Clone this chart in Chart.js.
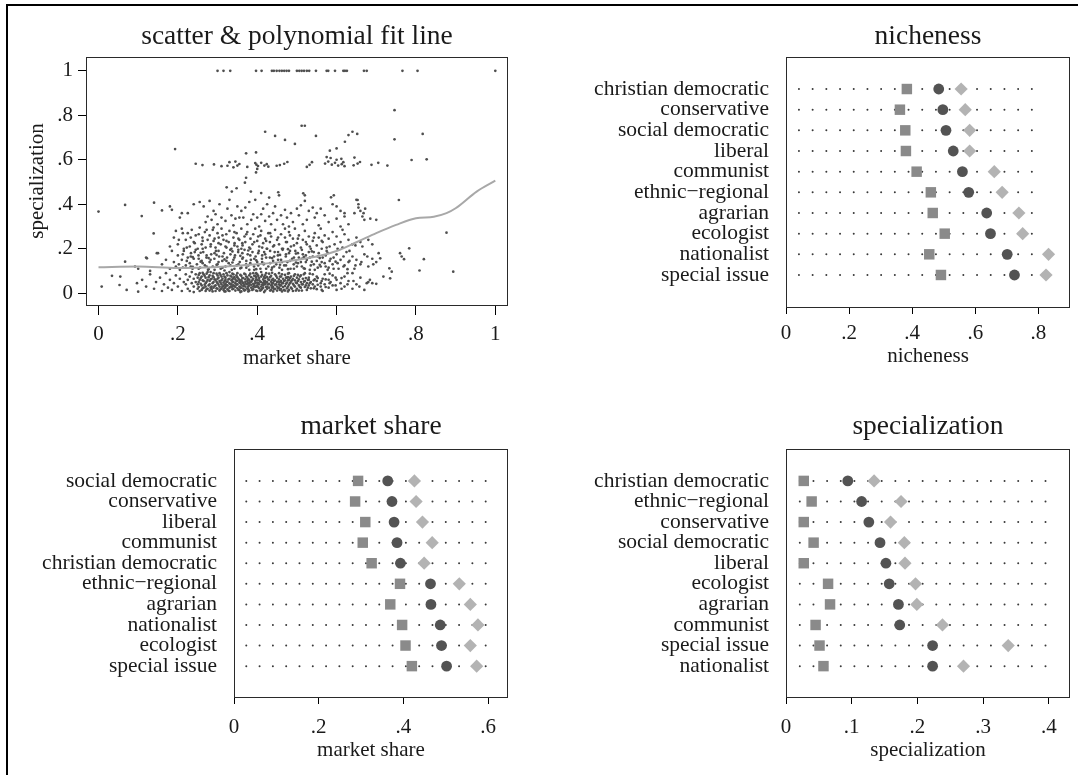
<!DOCTYPE html>
<html>
<head>
<meta charset="utf-8">
<script src="https://cdn.jsdelivr.net/npm/chart.js@4.4.1/dist/chart.umd.min.js"></script>
<style>
  html, body { margin: 0; padding: 0; background: #fff; overflow: hidden; }
  body { width: 1078px; height: 775px; position: relative; }
  .frame { position: absolute; left: 6px; top: 4px; width: 1200px; height: 900px;
           border-top: 2px solid #000; border-left: 2px solid #000; }
  canvas { position: absolute; }
</style>
</head>
<body>
<div class="frame"></div>
<canvas id="scatter" width="530" height="370" style="left:10px;top:10px"></canvas>
<canvas id="niche" width="528" height="370" style="left:550px;top:10px"></canvas>
<canvas id="share" width="530" height="375" style="left:10px;top:400px"></canvas>
<canvas id="spec" width="528" height="375" style="left:550px;top:400px"></canvas>
<script>
// ---- scatter & fit line ----
const scatterTicks = [0, 0.2, 0.4, 0.6, 0.8, 1];
const scatterTickLabels = ['0', '.2', '.4', '.6', '.8', '1'];

const fitX = [0, 0.1, 0.2, 0.3, 0.4, 0.466, 0.55, 0.6, 0.65, 0.7, 0.75, 0.8, 0.845, 0.877, 0.9, 0.953, 1];
const fitY = [0.117, 0.12, 0.113, 0.118, 0.13, 0.142, 0.165, 0.19, 0.229, 0.27, 0.307, 0.337, 0.344, 0.36, 0.382, 0.457, 0.506];

// sparse points, [market share, specialization]
const scatterPoints = [
  [0.300,1],[0.315,1],[0.332,1],[0.397,1],[0.411,1],[0.437,1],[0.442,1],[0.449,1],[0.456,1],[0.462,1],
  [0.468,1],[0.474,1],[0.480,1],[0.500,1],[0.506,1],[0.512,1],[0.518,1],[0.525,1],[0.531,1],[0.548,1],
  [0.575,1],[0.579,1],[0.596,1],[0.617,1],[0.621,1],[0.626,1],[0.669,1],[0.676,1],[0.766,1],[0.804,1],[1,1],
  [0.746,0.823],[0.746,0.692],[0.817,0.716],[0.827,0.602],[0.789,0.599],[0.512,0.753],[0.520,0.753],
  [0.420,0.726],[0.445,0.707],[0.470,0.689],[0.495,0.671],[0.548,0.707],[0.630,0.711],[0.640,0.726],
  [0.652,0.716],[0.621,0.681],[0.600,0.651],[0.583,0.641],[0.193,0.648],[0.372,0.629],[0.397,0.633],
  [0.575,0.612],[0.585,0.608],[0.600,0.600],[0.612,0.604],[0.645,0.610],[0.395,0.585],
  [0.245,0.582],[0.262,0.576],[0.291,0.579],[0.310,0.571],[0.325,0.573],[0.330,0.589],[0.345,0.592],
  [0.350,0.574],[0.375,0.568],[0.398,0.578],[0.402,0.572],[0.410,0.586],[0.418,0.574],[0.424,0.58],
  [0.428,0.569],[0.449,0.573],[0.457,0.576],[0.468,0.582],[0.476,0.59],[0.532,0.577],[0.538,0.589],
  [0.571,0.583],[0.579,0.592],[0.588,0.578],[0.596,0.586],[0.604,0.574],[0.613,0.58],[0.617,0.589],
  [0.643,0.575],[0.653,0.583],[0.659,0.59],[0.688,0.577],[0.705,0.586],[0.728,0.574],[0.340,0.566],
  [0.355,0.581],[0.400,0.559],[0.525,0.568],[0.620,0.571],
  [0.397,0.543],[0.369,0.497],[0.372,0.519],[0.348,0.472],[0.323,0.476],[0.336,0.457],[0.384,0.457],
  [0.453,0.454],[0.516,0.449],[0.586,0.431],[0.757,0.419],[0.520,0.44],[0.43,0.43],[0.41,0.45],
  [0.653,0.419],[0.655,0.40],[0.66,0.37],[0.672,0.38],[0.668,0.36],[0.593,0.44],[0.6,0.39],[0.61,0.30],
  [0.615,0.285],[0.62,0.36],
  [0.160,0.372],[0.180,0.39],[0.185,0.375],[0.205,0.34],[0.21,0.36],[0.225,0.36],[0.24,0.40],[0.255,0.41],
  [0.265,0.39],[0.27,0.32],[0.275,0.345],[0.28,0.415],[0.285,0.33],[0.29,0.37],[0.295,0.355],[0.30,0.31],
  [0.305,0.40],[0.31,0.34],[0.32,0.325],[0.325,0.38],[0.33,0.42],[0.335,0.35],[0.34,0.305],[0.345,0.335],
  [0.35,0.39],[0.355,0.34],[0.36,0.37],[0.365,0.34],[0.37,0.385],[0.375,0.31],[0.38,0.41],[0.385,0.33],
  [0.39,0.355],[0.395,0.42],[0.40,0.34],[0.405,0.30],[0.41,0.355],[0.415,0.38],[0.42,0.325],[0.425,0.40],
  [0.43,0.345],[0.435,0.31],[0.44,0.36],[0.445,0.39],[0.45,0.33],[0.455,0.44],[0.46,0.35],[0.465,0.31],
  [0.47,0.375],[0.475,0.34],[0.48,0.30],[0.485,0.36],[0.49,0.32],[0.50,0.38],[0.505,0.35],[0.51,0.395],
  [0.515,0.31],[0.52,0.415],[0.525,0.33],[0.53,0.37],[0.54,0.385],[0.545,0.34],[0.55,0.36],[0.555,0.305],
  [0.56,0.38],[0.57,0.35],[0.58,0.32],[0.59,0.40],[0.60,0.335],[0.61,0.37],[0.62,0.345],[0.63,0.31],
  [0.645,0.36],[0.65,0.42],[0.655,0.385],[0.665,0.345],[0.67,0.33],[0.685,0.335],[0.70,0.33],[0.14,0.407],
  [0.109,0.347],[0.067,0.397],[0.0,0.367],[0.139,0.269],
  [0.18,0.21],[0.19,0.25],[0.2,0.22],[0.21,0.29],[0.215,0.2],[0.22,0.24],[0.225,0.27],[0.23,0.21],
  [0.235,0.285],[0.24,0.23],[0.245,0.26],[0.25,0.2],[0.255,0.295],[0.26,0.22],[0.262,0.25],[0.268,0.275],
  [0.27,0.205],[0.275,0.24],[0.28,0.26],[0.283,0.22],[0.288,0.285],[0.29,0.235],[0.295,0.205],[0.3,0.27],
  [0.303,0.25],[0.308,0.22],[0.31,0.29],[0.315,0.24],[0.32,0.21],[0.322,0.265],[0.328,0.23],[0.33,0.28],
  [0.335,0.2],[0.34,0.25],[0.343,0.225],[0.348,0.27],[0.35,0.21],[0.355,0.24],[0.36,0.29],[0.363,0.215],
  [0.368,0.255],[0.37,0.23],[0.375,0.275],[0.38,0.205],[0.383,0.245],[0.388,0.22],[0.39,0.265],[0.395,0.29],
  [0.4,0.235],[0.405,0.21],[0.408,0.26],[0.41,0.28],[0.415,0.225],[0.42,0.245],[0.425,0.2],[0.428,0.27],
  [0.432,0.23],[0.435,0.255],[0.44,0.21],[0.445,0.285],[0.45,0.24],[0.455,0.22],[0.46,0.265],[0.465,0.2],
  [0.47,0.25],[0.475,0.23],[0.48,0.275],[0.485,0.21],[0.49,0.245],[0.495,0.29],[0.5,0.225],[0.505,0.26],
  [0.51,0.205],[0.515,0.24],[0.52,0.28],[0.525,0.22],[0.53,0.255],[0.535,0.2],[0.54,0.235],[0.545,0.27],
  [0.55,0.215],[0.555,0.25],[0.56,0.29],[0.565,0.23],[0.57,0.26],[0.575,0.205],[0.58,0.245],[0.59,0.275],
  [0.595,0.22],[0.6,0.255],[0.61,0.23],[0.615,0.205],[0.62,0.265],[0.63,0.24],[0.64,0.22],[0.65,0.25],
  [0.66,0.23],[0.665,0.21],[0.68,0.24],[0.69,0.22],[0.195,0.28],[0.29,0.295],[0.36,0.2],[0.47,0.29],
  [0.12,0.16],[0.15,0.18],[0.16,0.13],[0.17,0.15],[0.18,0.11],[0.185,0.19],[0.19,0.14],[0.195,0.12],
  [0.2,0.17],[0.205,0.105],[0.21,0.15],[0.215,0.19],[0.22,0.125],[0.225,0.16],[0.23,0.135],[0.233,0.18],
  [0.237,0.11],[0.24,0.155],[0.245,0.195],[0.248,0.13],[0.252,0.17],[0.256,0.115],[0.26,0.145],[0.264,0.185],
  [0.268,0.125],[0.272,0.16],[0.276,0.105],[0.28,0.14],[0.284,0.175],[0.288,0.12],[0.292,0.155],[0.296,0.19],
  [0.3,0.13],[0.304,0.165],[0.308,0.11],[0.312,0.145],[0.316,0.18],[0.32,0.12],[0.324,0.16],[0.328,0.135],
  [0.332,0.195],[0.336,0.105],[0.34,0.15],[0.344,0.17],[0.348,0.125],[0.352,0.185],[0.356,0.14],[0.36,0.115],
  [0.364,0.16],[0.368,0.195],[0.372,0.13],[0.376,0.175],[0.38,0.105],[0.384,0.15],[0.388,0.185],[0.392,0.12],
  [0.396,0.165],[0.4,0.14],[0.404,0.19],[0.408,0.11],[0.412,0.155],[0.416,0.13],[0.42,0.175],[0.424,0.2],
  [0.428,0.12],[0.432,0.16],[0.436,0.105],[0.44,0.145],[0.444,0.185],[0.448,0.13],[0.452,0.17],[0.456,0.115],
  [0.46,0.15],[0.464,0.195],[0.468,0.125],[0.472,0.165],[0.476,0.14],[0.48,0.18],[0.484,0.11],[0.488,0.155],
  [0.492,0.13],[0.496,0.19],[0.5,0.12],[0.505,0.16],[0.51,0.14],[0.515,0.175],[0.52,0.11],[0.525,0.15],
  [0.53,0.185],[0.535,0.125],[0.54,0.165],[0.545,0.105],[0.55,0.145],[0.555,0.18],[0.56,0.12],[0.565,0.16],
  [0.57,0.135],[0.575,0.19],[0.58,0.115],[0.585,0.155],[0.59,0.13],[0.6,0.175],[0.605,0.11],[0.61,0.15],
  [0.62,0.125],[0.625,0.185],[0.63,0.14],[0.64,0.165],[0.645,0.11],[0.65,0.15],[0.66,0.13],[0.67,0.175],
  [0.68,0.12],[0.69,0.155],[0.7,0.14],[0.71,0.157],[0.706,0.18],[0.733,0.112],[0.739,0.097],[0.76,0.18],
  [0.764,0.165],[0.77,0.153],[0.783,0.202],[0.82,0.153],[0.809,0.102],[0.894,0.097],[0.877,0.272],
  [0.147,0.18],[0.122,0.157],[0.067,0.142],[0.092,0.12],[0.1,0.11],[0.13,0.10],
  [0.008,0.03],[0.034,0.078],[0.055,0.075],[0.053,0.037],[0.071,0.015],[0.097,0.045],[0.1,0.007],
  [0.11,0.06],[0.12,0.03],[0.13,0.085],[0.14,0.02],[0.145,0.05],[0.155,0.07],[0.16,0.01],[0.165,0.04],
  [0.17,0.09],[0.175,0.025],[0.18,0.06],[0.185,0.015],[0.19,0.045],[0.195,0.08],[0.2,0.03],[0.205,0.065],
  [0.21,0.01],[0.215,0.05],[0.718,0.075],[0.735,0.067],[0.684,0.06],[0.676,0.045],[0.69,0.045]
];

// dense low band: [market share, specialization values ...]
const lowColumns = [
  [0.22,0.04,0.085],[0.225,0.02,0.06],[0.23,0.075,0.01],[0.235,0.045,0.095],[0.24,0.03,0.065,0.005],
  [0.245,0.05,0.085],[0.25,0.02,0.07,0.04],[0.255,0.06,0.01,0.09],[0.26,0.035,0.075,0.015],
  [0.265,0.055,0.025,0.085],[0.27,0.045,0.07,0.01,0.03],[0.275,0.02,0.06,0.095],[0.28,0.04,0.08,0.012,0.055],
  [0.285,0.03,0.065,0.018],[0.29,0.05,0.09,0.025,0.072],[0.295,0.035,0.01,0.06],[0.3,0.045,0.08,0.02,0.065],
  [0.305,0.03,0.055,0.012,0.09],[0.31,0.04,0.075,0.022,0.058],[0.315,0.015,0.048,0.085,0.032],
  [0.32,0.06,0.028,0.07,0.008,0.042],[0.325,0.035,0.08,0.018,0.052],[0.33,0.045,0.065,0.025,0.095,0.01],
  [0.335,0.03,0.058,0.075,0.04],[0.34,0.02,0.05,0.085,0.035,0.068],[0.345,0.012,0.045,0.062,0.028],
  [0.35,0.04,0.072,0.022,0.055,0.09],[0.355,0.03,0.06,0.015,0.048],[0.36,0.038,0.078,0.025,0.058,0.008],
  [0.365,0.045,0.02,0.068,0.032],[0.37,0.05,0.085,0.03,0.062,0.015],[0.375,0.04,0.022,0.07,0.055],
  [0.38,0.035,0.06,0.012,0.08,0.045],[0.385,0.025,0.052,0.072,0.038],[0.39,0.042,0.018,0.065,0.09,0.03],
  [0.395,0.055,0.028,0.078,0.045],[0.4,0.035,0.06,0.01,0.048,0.085],[0.405,0.022,0.068,0.04,0.058],
  [0.41,0.03,0.075,0.015,0.05,0.095],[0.415,0.045,0.025,0.062,0.036],[0.42,0.055,0.012,0.08,0.04,0.068],
  [0.425,0.03,0.05,0.02,0.072],[0.43,0.042,0.088,0.025,0.06],[0.435,0.015,0.052,0.035,0.078],
  [0.44,0.045,0.065,0.008,0.028],[0.445,0.038,0.058,0.085,0.02],[0.45,0.05,0.03,0.07,0.012],
  [0.455,0.04,0.062,0.025,0.09],[0.46,0.055,0.018,0.075,0.035],[0.465,0.045,0.028,0.065],
  [0.47,0.032,0.058,0.012,0.082],[0.475,0.048,0.022,0.07],[0.48,0.038,0.06,0.015,0.09],
  [0.485,0.025,0.052,0.075],[0.49,0.042,0.01,0.065],[0.495,0.03,0.058,0.085],[0.5,0.045,0.02,0.07],
  [0.505,0.035,0.062,0.012],[0.51,0.05,0.025,0.08],[0.515,0.04,0.065],[0.52,0.028,0.055,0.09],
  [0.525,0.015,0.045],[0.53,0.035,0.07,0.06],[0.535,0.05,0.022],[0.54,0.04,0.085],[0.545,0.03,0.062],
  [0.55,0.018,0.055,0.075],[0.56,0.045,0.03],[0.565,0.065,0.01],[0.57,0.04,0.085],[0.58,0.025,0.06],
  [0.585,0.05],[0.59,0.035,0.08],[0.6,0.015,0.06],[0.61,0.045],[0.62,0.03,0.075],[0.63,0.055],
  [0.64,0.02,0.09],[0.65,0.04],[0.66,0.07],[0.67,0.015],[0.68,0.05],[0.7,0.042],
  [0.2525,0.05,0.028,0.082],[0.2575,0.042,0.068],[0.2625,0.022,0.058,0.092],[0.2675,0.038,0.078],
  [0.2725,0.018,0.052,0.088],[0.2775,0.035,0.072],[0.2825,0.025,0.062,0.095],[0.2875,0.045,0.008,0.078],
  [0.2925,0.032,0.062],[0.2975,0.052,0.022,0.088],[0.3025,0.038,0.07],[0.3075,0.018,0.048,0.082],
  [0.3125,0.03,0.065],[0.3175,0.055,0.022,0.075],[0.3225,0.035,0.05,0.09],[0.3275,0.012,0.062],
  [0.3325,0.04,0.078,0.028],[0.3375,0.05,0.018,0.088],[0.3425,0.032,0.072],[0.3475,0.055,0.038,0.08],
  [0.3525,0.015,0.065],[0.3575,0.045,0.025,0.082],[0.3625,0.05,0.068],[0.3675,0.012,0.038,0.088],
  [0.3725,0.042,0.075],[0.3775,0.03,0.062,0.008],[0.3825,0.05,0.088],[0.3875,0.015,0.058],
  [0.3925,0.035,0.078],[0.3975,0.012,0.062,0.09],[0.4025,0.045,0.078,0.028],[0.4075,0.052,0.012],
  [0.4125,0.038,0.082,0.02],[0.4175,0.055,0.072],[0.4225,0.028,0.048,0.09],[0.4275,0.04,0.062],
  [0.4325,0.012,0.072],[0.4375,0.045,0.025,0.092],[0.4425,0.055,0.018],[0.4475,0.04,0.078],
  [0.4525,0.022,0.052],[0.4575,0.035,0.075],[0.4625,0.045,0.008,0.085],[0.4675,0.055,0.015],
  [0.4725,0.042,0.07],[0.4775,0.03,0.058,0.088],[0.4825,0.045,0.068],[0.4875,0.02,0.058],
  [0.4925,0.035,0.078],[0.4975,0.012,0.048],[0.5025,0.055,0.082],[0.5075,0.028,0.075],[0.5125,0.04,0.012],
  [0.5175,0.052,0.085],[0.5225,0.035,0.068],[0.5275,0.025,0.06],[0.5325,0.045,0.088],[0.5425,0.022,0.058],
  [0.5525,0.038,0.068],[0.5625,0.015,0.055],[0.5725,0.028,0.062],[0.5825,0.045,0.088],[0.5975,0.035,0.07],
  [0.6125,0.02,0.068],[0.6275,0.04,0.09],[0.6425,0.055],[0.6575,0.03],
  [0.3175,0.008,0.038],[0.3375,0.03,0.062],[0.3575,0.055,0.005],[0.3775,0.018,0.048],[0.3975,0.03,0.072],
  [0.4175,0.005,0.045],[0.4375,0.06,0.035],[0.4575,0.015,0.05],[0.4775,0.008,0.072]
];

// middle band 0.1 - 0.3: [market share, specialization values ...]
const midColumns = [
  [0.2025,0.13,0.24],[0.2125,0.115,0.175,0.27],[0.2225,0.145,0.205],[0.2325,0.12,0.165,0.25],
  [0.2425,0.185,0.225],[0.2525,0.11,0.155,0.265],[0.2625,0.135,0.2,0.235],[0.2725,0.12,0.17,0.285],
  [0.2825,0.15,0.21],[0.2925,0.105,0.18,0.245],[0.3025,0.14,0.19,0.225],[0.3125,0.115,0.165,0.26],
  [0.3225,0.145,0.205,0.235],[0.3325,0.125,0.175],[0.3425,0.11,0.16,0.215,0.275],[0.3525,0.13,0.195,0.245],
  [0.3625,0.155,0.18,0.225],[0.3725,0.115,0.145,0.265],[0.3825,0.135,0.17,0.2],[0.3925,0.105,0.155,0.23],
  [0.4025,0.125,0.18,0.255],[0.4125,0.14,0.17,0.205],[0.4225,0.11,0.16,0.235],[0.4325,0.135,0.19,0.27],
  [0.4425,0.12,0.165,0.215],[0.4525,0.15,0.185,0.25],[0.4625,0.105,0.14,0.2],[0.4725,0.125,0.175,0.23],
  [0.4825,0.145,0.19,0.26],[0.4925,0.11,0.16,0.215],[0.5025,0.135,0.18,0.245],[0.5125,0.12,0.155,0.195],
  [0.5225,0.14,0.17,0.23],[0.5325,0.105,0.16,0.21],[0.5425,0.13,0.185,0.25],[0.5525,0.115,0.165],
  [0.5625,0.14,0.2,0.235],[0.5725,0.12,0.17],[0.5825,0.145,0.21],[0.5925,0.11,0.16],[0.6025,0.135,0.2],
  [0.6175,0.12,0.165],[0.6325,0.145,0.19],[0.6475,0.125,0.215],[0.6625,0.14],[0.6775,0.165],[0.6925,0.13],
  [0.2375,0.118,0.162],[0.2575,0.142,0.182],[0.2775,0.108,0.158],[0.2975,0.128,0.172],[0.3175,0.102,0.152],
  [0.3375,0.138,0.188],[0.3575,0.112,0.168],[0.3775,0.125,0.192],[0.3975,0.108,0.148],[0.4175,0.132,0.185],
  [0.4375,0.115,0.158],[0.4575,0.128,0.172],[0.4775,0.108,0.198],[0.4975,0.138,0.178],[0.5175,0.112,0.162],
  [0.5375,0.142,0.188],[0.5575,0.128,0.158],[0.5775,0.105,0.182],[0.5975,0.142],[0.6275,0.108]
];

// ---- dot plots ----
const nicheCats = ['christian democratic', 'conservative', 'social democratic', 'liberal', 'communist',
  'ethnic\u2212regional', 'agrarian', 'ecologist', 'nationalist', 'special issue'];
const nicheSquare = [0.383, 0.361, 0.378, 0.380, 0.414, 0.459, 0.465, 0.503, 0.454, 0.491];
const nicheCircle = [0.484, 0.497, 0.507, 0.530, 0.559, 0.579, 0.636, 0.648, 0.701, 0.724];
const nicheDiamond = [0.555, 0.568, 0.582, 0.582, 0.660, 0.685, 0.738, 0.750, 0.832, 0.824];
const nicheTicks = [0, 0.2, 0.4, 0.6, 0.8];
const nicheTickLabels = ['0', '.2', '.4', '.6', '.8'];

const shareCats = ['social democratic', 'conservative', 'liberal', 'communist', 'christian democratic',
  'ethnic\u2212regional', 'agrarian', 'nationalist', 'ecologist', 'special issue'];
const shareSquare = [0.293, 0.286, 0.310, 0.304, 0.325, 0.392, 0.369, 0.397, 0.405, 0.420];
const shareCircle = [0.363, 0.373, 0.378, 0.385, 0.393, 0.464, 0.465, 0.487, 0.490, 0.502];
const shareDiamond = [0.426, 0.430, 0.445, 0.468, 0.449, 0.532, 0.558, 0.576, 0.558, 0.573];
const shareTicks = [0, 0.2, 0.4, 0.6];
const shareTickLabels = ['0', '.2', '.4', '.6'];

const specCats = ['christian democratic', 'ethnic\u2212regional', 'conservative', 'social democratic', 'liberal',
  'ecologist', 'agrarian', 'communist', 'special issue', 'nationalist'];
const specSquare = [0.027, 0.039, 0.027, 0.042, 0.027, 0.064, 0.067, 0.045, 0.051, 0.057];
const specCircle = [0.094, 0.115, 0.126, 0.143, 0.152, 0.157, 0.171, 0.173, 0.223, 0.223];
const specDiamond = [0.134, 0.175, 0.159, 0.180, 0.181, 0.197, 0.199, 0.238, 0.338, 0.270];
const specTicks = [0, 0.1, 0.2, 0.3, 0.4];
const specTickLabels = ['0', '.1', '.2', '.3', '.4'];

Chart.defaults.font.family = '"Liberation Serif", "Times New Roman", serif';
Chart.defaults.color = '#1a1a1a';
Chart.defaults.animation = false;

const TEXT = '#1a1a1a';

const boxPlugin = {
  id: 'box',
  afterDatasetsDraw(chart) {
    const { ctx, chartArea: a } = chart;
    ctx.save();
    ctx.strokeStyle = '#2a2a2a';
    ctx.lineWidth = 1;
    ctx.strokeRect(Math.round(a.left) + 0.5, Math.round(a.top) + 0.5,
      Math.round(a.right - a.left) - 1, Math.round(a.bottom - a.top));
    ctx.restore();
  }
};

function titleOpts(text, padTop, padBottom) {
  return {
    display: true, text: text, fullSize: false, color: TEXT,
    font: { size: 27.5, weight: 'normal' },
    padding: { top: padTop, bottom: padBottom }
  };
}

function xAxis(ticks, labels, min, max, title, height, tickLen, tickPad, titlePad) {
  return {
    type: 'linear', position: 'bottom', min: min, max: max,
    afterBuildTicks: s => { s.ticks = ticks.map(v => ({ value: v })); },
    afterFit: s => { s.height = height; },
    ticks: {
      autoSkip: false, maxRotation: 0, padding: tickPad, color: TEXT,
      font: { size: 21 },
      callback: v => labels[ticks.indexOf(v)]
    },
    grid: { drawOnChartArea: false, drawTicks: true, tickLength: tickLen, tickColor: '#000', lineWidth: 1 },
    border: { display: false },
    title: { display: true, text: title, color: TEXT, font: { size: 21 }, padding: { top: 0, bottom: titlePad } }
  };
}

// scatter panel
const expand = cols => cols.flatMap(([x, ...ys]) => ys.map(y => ({ x, y })));
const scatterData = scatterPoints.map(([x, y]) => ({ x, y }))
  .concat(expand(lowColumns), expand(midColumns));

new Chart(document.getElementById('scatter'), {
  type: 'scatter',
  data: {
    datasets: [
      {
        label: 'fit',
        type: 'line',
        data: fitX.map((x, i) => ({ x, y: fitY[i] })),
        borderColor: '#a8a8a8', borderWidth: 2, pointRadius: 0,
        cubicInterpolationMode: 'monotone', fill: false, order: 1
      },
      {
        label: 'parties',
        data: scatterData,
        backgroundColor: '#4f4f4f', borderWidth: 0, pointRadius: 1.35, order: 2
      }
    ]
  },
  options: {
    responsive: false,
    layout: { padding: { left: 0, right: 32, top: 0, bottom: 0 } },
    plugins: {
      legend: { display: false }, tooltip: { enabled: false },
      title: titleOpts('scatter & polynomial fit line', 10.5, 3.5)
    },
    scales: {
      x: xAxis(scatterTicks, scatterTickLabels, -0.0315, 1.032, 'market share', 75, 10, 6.4, 9),
      y: {
        type: 'linear', min: -0.053, max: 1.062,
        afterBuildTicks: s => { s.ticks = scatterTicks.map(v => ({ value: v })); },
        afterFit: s => { s.width = 76; },
        ticks: {
          autoSkip: false, padding: 5, color: TEXT, font: { size: 21 },
          callback: v => scatterTickLabels[scatterTicks.indexOf(v)]
        },
        grid: { drawOnChartArea: false, drawTicks: true, tickLength: 8, tickColor: '#000' },
        border: { display: false },
        title: { display: true, text: 'specialization', color: TEXT, font: { size: 21 }, padding: { top: 14.4, bottom: 0 } }
      }
    }
  },
  plugins: [boxPlugin]
});

function dotPlot(id, cfg) {
  const guides = cfg.cats.map((_, i) => ({
    type: 'line',
    data: [{ x: cfg.dots[0], y: i }, { x: cfg.dots[1], y: i }],
    borderColor: '#3a3a3a', borderWidth: 2, borderDash: [0, cfg.dotGap], borderCapStyle: 'round',
    pointRadius: 0, fill: false, order: 10
  }));
  const marks = (vals, style, color, radius, order) => ({
    data: vals.map((v, i) => ({ x: v, y: i })),
    pointStyle: style, pointRadius: radius, backgroundColor: color, borderColor: color, borderWidth: 0, order: order
  });
  new Chart(document.getElementById(id), {
    type: 'scatter',
    data: {
      datasets: [
        marks(cfg.square, 'rect', '#8a8a8a', 7.4, 3),
        marks(cfg.circle, 'circle', '#535353', 5.4, 2),
        marks(cfg.diamond, 'rectRot', '#b3b3b3', 6.6, 1)
      ].concat(guides)
    },
    options: {
      responsive: false,
      layout: { padding: { left: 0, right: cfg.padRight, top: 0, bottom: 0 } },
      plugins: {
        legend: { display: false }, tooltip: { enabled: false },
        title: titleOpts(cfg.title, cfg.titlePad[0], cfg.titlePad[1])
      },
      scales: {
        x: xAxis(cfg.ticks, cfg.tickLabels, 0, cfg.xMax, cfg.axisTitle, cfg.xHeight, 7, cfg.tickPad, cfg.axisTitlePad),
        y: {
          type: 'linear', reverse: true, min: -1.55, max: cfg.yMax,
          afterBuildTicks: s => { s.ticks = cfg.cats.map((_, i) => ({ value: i })); },
          afterFit: s => { s.width = cfg.yWidth; },
          ticks: {
            autoSkip: false, padding: 17, color: TEXT, font: { size: 21.5 },
            callback: v => cfg.cats[v]
          },
          grid: { display: false, drawTicks: false },
          border: { display: false }
        }
      }
    },
    plugins: [boxPlugin]
  });
}

dotPlot('niche', {
  title: 'nicheness', axisTitle: 'nicheness', cats: nicheCats,
  square: nicheSquare, circle: nicheCircle, diamond: nicheDiamond,
  ticks: nicheTicks, tickLabels: nicheTickLabels, xMax: 0.9,
  dots: [0.041, 0.821], dotGap: 13.7,
  padRight: 8, yWidth: 236, xHeight: 73, yMax: 10.55,
  titlePad: [10.5, 3.5], tickPad: 6.9, axisTitlePad: 11
});

dotPlot('share', {
  title: 'market share', axisTitle: 'market share', cats: shareCats,
  square: shareSquare, circle: shareCircle, diamond: shareDiamond,
  ticks: shareTicks, tickLabels: shareTickLabels, xMax: 0.647,
  dots: [0.029, 0.624], dotGap: 13.3,
  padRight: 32, yWidth: 224, xHeight: 78, yMax: 10.5,
  titlePad: [10, 6], tickPad: 10.4, axisTitlePad: 12
});

dotPlot('spec', {
  title: 'specialization', axisTitle: 'specialization', cats: specCats,
  square: specSquare, circle: specCircle, diamond: specDiamond,
  ticks: specTicks, tickLabels: specTickLabels, xMax: 0.432,
  dots: [0.021, 0.395], dotGap: 13.65,
  padRight: 8, yWidth: 236, xHeight: 78, yMax: 10.5,
  titlePad: [10, 6], tickPad: 10.4, axisTitlePad: 12
});
</script>
</body>
</html>
